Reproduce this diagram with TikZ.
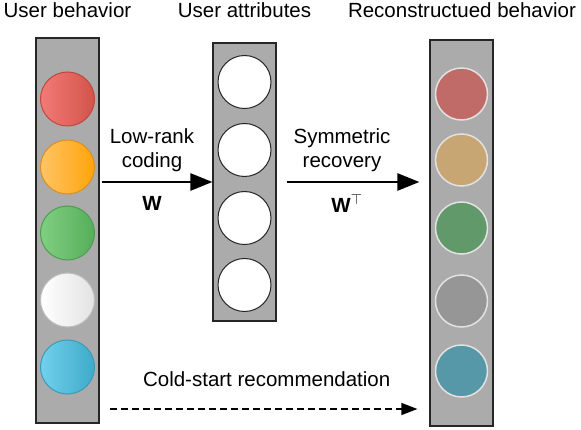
\documentclass[tikz,border=0pt]{standalone}
\usepackage{fontspec}
\setmainfont{Liberation Sans}
\usepackage{amsmath}
\usepackage{xcolor}
\usetikzlibrary{arrows.meta, positioning}

\definecolor{barfill}{HTML}{ABABAB}
\definecolor{redL}{HTML}{F27B76}\definecolor{redR}{HTML}{D2544B}\definecolor{redB}{HTML}{C0463F}
\definecolor{orgL}{HTML}{FFC466}\definecolor{orgR}{HTML}{FFA40A}\definecolor{orgB}{HTML}{D99022}
\definecolor{grnL}{HTML}{80CF80}\definecolor{grnR}{HTML}{55AE5A}\definecolor{grnB}{HTML}{4C9E50}
\definecolor{whtL}{HTML}{FFFFFF}\definecolor{whtR}{HTML}{E3E3E3}\definecolor{whtB}{HTML}{BDBDBD}
\definecolor{bluL}{HTML}{72D0EC}\definecolor{bluR}{HTML}{3EAAC9}\definecolor{bluB}{HTML}{3A9AB8}
\definecolor{recRed}{HTML}{C16B69}
\definecolor{recTan}{HTML}{C7A673}
\definecolor{recGrn}{HTML}{62996A}
\definecolor{recGry}{HTML}{969696}
\definecolor{recTeal}{HTML}{5697A8}
\definecolor{recRim}{HTML}{E2E2E2}

\begin{document}
\begin{tikzpicture}[
    x=1pt, y=-1pt,
    bar/.style={rectangle, draw=black!85, fill=barfill, line width=1.2pt, minimum width=63pt, inner sep=0pt},
    dot/.style={circle, minimum size=54pt, inner sep=0pt, line width=1pt},
    attdot/.style={dot, draw=black!85, fill=white, minimum size=53pt},
    recdot/.style={dot, draw=recRim, line width=1.5pt, minimum size=52pt},
    title/.style={font=\fontsize{20.5}{24}\selectfont, anchor=base},
    label/.style={font=\fontsize{20.5}{24}\selectfont, align=center},
    arrow/.style={-{Triangle[length=22pt, width=17pt]}, line width=2.7pt},
    coldarrow/.style={-{Triangle[length=16pt, width=12pt]}, line width=1.2pt, dash pattern=on 7pt off 4pt}
]
\useasboundingbox (0,0) rectangle (581,430);

% Bars
\node[bar, minimum height=385pt] (behbar) at (67.5,230.5) {};
\node[bar, minimum height=278pt] (attbar) at (244.5,182) {};
\node[bar, minimum height=386pt] (recbar) at (461.5,233) {};

% Titles
\node[title] (behtitle) at (67.5,18) {User behavior};
\node[title] (atttitle) at (244.5,18) {User attributes};
\node[title] (rectitle) at (462,18) {Reconstructued behavior};

% User behavior circles
\foreach \y/\cl/\cr/\cb [count=\i] in {99/redL/redR/redB, 167/orgL/orgR/orgB, 233/grnL/grnR/grnB, 300/whtL/whtR/whtB, 367/bluL/bluR/bluB}
    \node[dot, draw=\cb, left color=\cl, right color=\cr] (beh\i) at (67.5,\y) {};

% User attribute circles
\foreach \y [count=\i] in {82, 150, 218, 285}
    \node[attdot] (att\i) at (244.5,\y) {};

% Reconstructed behavior circles
\foreach \y/\c [count=\i] in {94/recRed, 160/recTan, 228/recGrn, 301/recGry, 371/recTeal}
    \node[recdot, fill=\c] (rec\i) at (461.5,\y) {};

% Arrows
\draw[arrow, shorten <=2pt] (attbar.west -| behbar.east) -- node[label, above=6pt, xshift=-4pt] {Low-rank\\coding} node[label, below=10pt, xshift=-4pt] {\textbf{W}} (attbar.west);
\draw[arrow, shorten <=10pt, shorten >=10pt] (attbar.east) -- node[label, above=6pt, xshift=-11pt] {Symmetric\\recovery} node[label, below=8pt, xshift=-6pt] {\textbf{W}$^{\top}$} (recbar.west |- attbar.east);

% Cold-start
\coordinate (coldstart) at (110,409);
\draw[coldarrow, shorten >=12pt] (coldstart) -- node[label, above=18pt, xshift=-3pt] {Cold-start recommendation} (recbar.west |- coldstart);

\end{tikzpicture}
\end{document}
